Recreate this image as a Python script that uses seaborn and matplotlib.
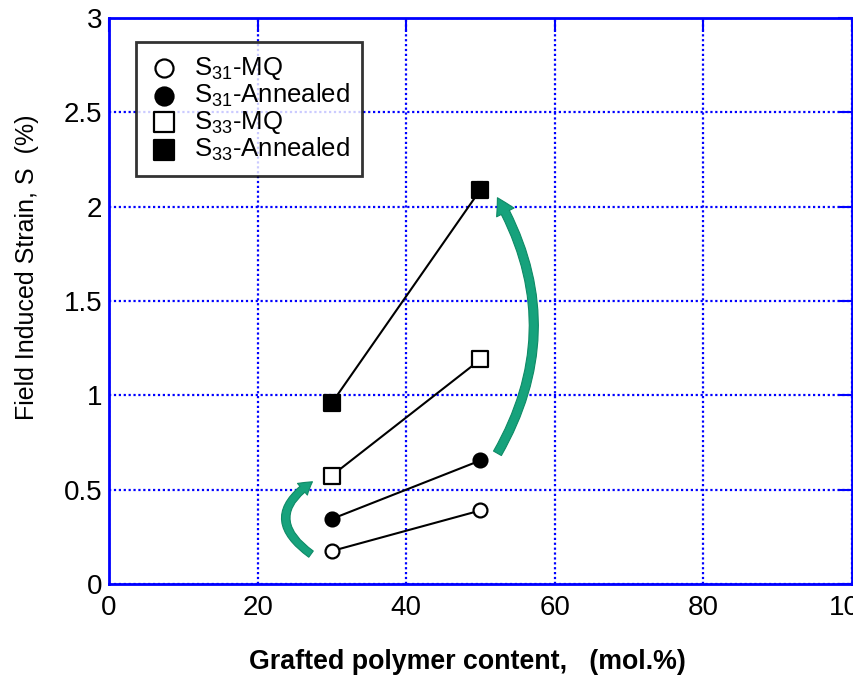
import matplotlib
matplotlib.use("Agg")
import matplotlib.pyplot as plt
from matplotlib.patches import FancyArrowPatch
import seaborn as sns
import pandas as pd

# ── Data ──────────────────────────────────────────────────────────────────────
content = [30, 50]                      # grafted polymer content, mol.%
s31_mq = [0.175, 0.39]
s31_annealed = [0.345, 0.655]
s33_mq = [0.575, 1.19]
s33_annealed = [0.96, 2.09]
err_s31_mq = [0.025, 0.02]
err_s31_annealed = [0.03, 0.025]
err_s33_mq = [0.02, 0.02]
err_s33_annealed = [0.03, 0.04]

x_ticks = [0, 20, 40, 60, 80, 100]
y_ticks = [0, 0.5, 1, 1.5, 2, 2.5, 3]

# ── Style ─────────────────────────────────────────────────────────────────────
sns.set_style("white")
plt.rcParams["font.family"] = ["Liberation Sans", "DejaVu Sans"]
plt.rcParams["mathtext.fontset"] = "custom"
plt.rcParams["mathtext.rm"] = "Liberation Sans"
plt.rcParams["mathtext.it"] = "Liberation Sans:italic"
plt.rcParams["text.color"] = "black"
plt.rcParams["axes.labelcolor"] = "black"

BLUE = "#0000ff"
GREEN = "#16a27c"

fig = plt.figure(figsize=(8.54, 6.78), dpi=100)
ax = fig.add_axes([0.1276, 0.1386, 0.870, 0.8349])

series = [
    ("S$_{31}$-MQ", s31_mq, err_s31_mq, "o", "white"),
    ("S$_{31}$-Annealed", s31_annealed, err_s31_annealed, "o", "black"),
    ("S$_{33}$-MQ", s33_mq, err_s33_mq, "s", "white"),
    ("S$_{33}$-Annealed", s33_annealed, err_s33_annealed, "s", "black"),
]

for label, yv, ev, mk, fc in series:
    df = pd.DataFrame({"x": content, "y": yv})
    sns.lineplot(data=df, x="x", y="y", color="black", linewidth=1.5,
                 legend=False, ax=ax, zorder=3)
    ax.errorbar(content, yv, yerr=ev, fmt="none", ecolor="black",
                elinewidth=1.5, capsize=2, capthick=1.5, zorder=3)
    sns.scatterplot(data=df, x="x", y="y", marker=mk, s=120 if mk == "s" else 100,
                    facecolor=fc, edgecolor="black", linewidth=1.6,
                    label=label, ax=ax, zorder=4)

# ── Green curved arrows ───────────────────────────────────────────────────────
left_arrow = FancyArrowPatch(
    (27.5, 0.15), (27.7, 0.55),
    connectionstyle="arc3,rad=-0.75",
    arrowstyle="simple,head_width=11,head_length=9,tail_width=5.5",
    mutation_scale=1, facecolor=GREEN, edgecolor="#0e8a66", linewidth=0.8,
    zorder=5,
)
right_arrow = FancyArrowPatch(
    (52.1, 0.68), (52.1, 2.06),
    connectionstyle="arc3,rad=0.29",
    arrowstyle="simple,head_width=14,head_length=12,tail_width=6.5",
    mutation_scale=1, facecolor=GREEN, edgecolor="#0e8a66", linewidth=0.8,
    zorder=5,
)
ax.add_patch(left_arrow)
ax.add_patch(right_arrow)

# ── Axes ──────────────────────────────────────────────────────────────────────
ax.set_xlim(0, 100)
ax.set_ylim(0, 3)
ax.set_xticks(x_ticks)
ax.set_yticks(y_ticks)
ax.set_xticklabels([str(t) for t in x_ticks])
ax.set_yticklabels([f"{t:g}" for t in y_ticks])

ax.grid(True, color=BLUE, linestyle=(0, (1, 1.2)), linewidth=1.6)
for sp in ax.spines.values():
    sp.set_color(BLUE)
    sp.set_linewidth(2)
ax.tick_params(direction="in", length=10, width=1.5, color=BLUE,
               top=True, right=True, labelsize=20, labelcolor="black")
ax.tick_params(axis="x", pad=8)
ax.tick_params(axis="y", pad=5)

ax.set_xlabel("Grafted polymer content,   (mol.%)", fontsize=19.3,
              fontweight="bold", va="center")
ax.xaxis.set_label_coords(0.483, -0.138)
ax.set_ylabel("Field Induced Strain, S  (%)", fontsize=18,
              va="center")
ax.yaxis.set_label_coords(-0.11, 0.56)

# ── Legend ────────────────────────────────────────────────────────────────────
leg = ax.legend(loc="upper left", bbox_to_anchor=(0.036, 0.958),
                fontsize=18.5, frameon=True, fancybox=False, markerscale=1.3,
                handletextpad=0.55, labelspacing=0.0, borderpad=0.5,
                handlelength=1.2, borderaxespad=0)
leg.get_frame().set_edgecolor("black")
leg.get_frame().set_linewidth(2)

fig.savefig("out.png", dpi=100)
